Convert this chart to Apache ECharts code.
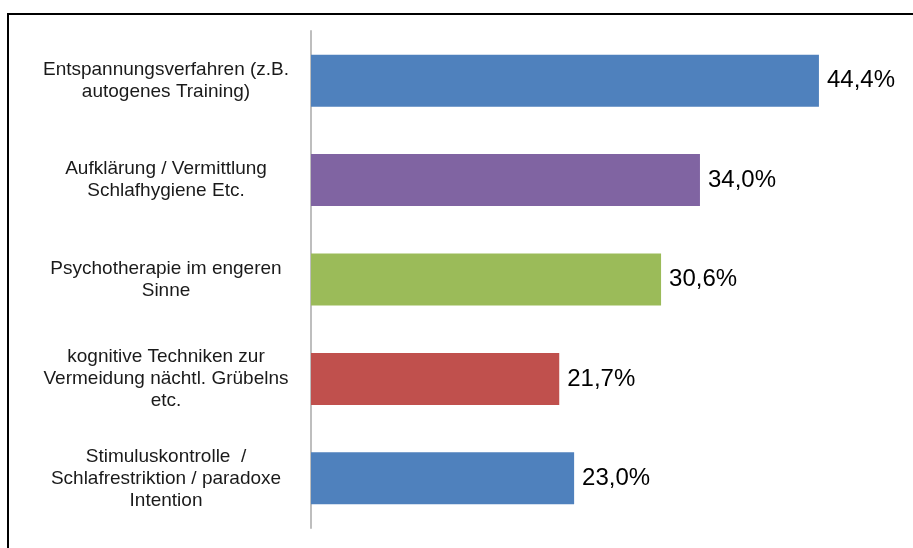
<!DOCTYPE html>
<html>
<head>
<meta charset="utf-8">
<script src="https://cdn.jsdelivr.net/npm/echarts@6/dist/echarts.min.js"></script>
<style>
  html, body { margin: 0; padding: 0; background: #fff; }
  #chart { width: 913px; height: 548px; }
</style>
</head>
<body>
<div id="chart"></div>
<script>
// Therapy approaches and the share of respondents naming each one (%)
const categories = [
  'Entspannungsverfahren (z.B.\nautogenes Training)',
  'Aufklärung / Vermittlung\nSchlafhygiene Etc.',
  'Psychotherapie im engeren\nSinne',
  'kognitive Techniken zur\nVermeidung nächtl. Grübelns\netc.',
  'Stimuluskontrolle  /\nSchlafrestriktion / paradoxe\nIntention'
];
const values = [44.4, 34.0, 30.6, 21.7, 23.0];
const barColors = ['#4F81BD', '#8064A2', '#9BBB59', '#C0504D', '#4F81BD'];

const fontFamily = '"Liberation Sans", Arial, sans-serif';

const chart = echarts.init(document.getElementById('chart'), null, { renderer: 'canvas' });

chart.setOption({
  backgroundColor: '#ffffff',
  animation: false,
  graphic: [{
    type: 'rect',
    shape: { x: 8, y: 14, width: 940, height: 580 },
    style: { fill: 'none', stroke: '#000000', lineWidth: 2 },
    silent: true,
    z: 100
  }],
  grid: { left: 311, top: 31, width: 572, height: 497, containLabel: false },
  xAxis: {
    type: 'value',
    min: 0,
    max: 50,
    show: false,
    splitLine: { show: false }
  },
  yAxis: {
    type: 'category',
    inverse: true,
    data: categories,
    axisLine: { show: true, lineStyle: { color: '#BEBEBE', width: 2 } },
    axisTick: { show: false },
    axisLabel: {
      align: 'center',
      margin: 145,
      fontFamily: fontFamily,
      fontSize: 19,
      lineHeight: 22,
      color: '#1a1a1a'
    }
  },
  series: [{
    type: 'bar',
    barWidth: 52,
    data: values.map((v, i) => ({ value: v, itemStyle: { color: barColors[i] } })),
    label: {
      show: true,
      position: 'right',
      distance: 8,
      fontFamily: fontFamily,
      fontSize: 24,
      color: '#000000',
      formatter: p => p.value.toFixed(1).replace('.', ',') + '%'
    }
  }]
});
</script>
</body>
</html>
